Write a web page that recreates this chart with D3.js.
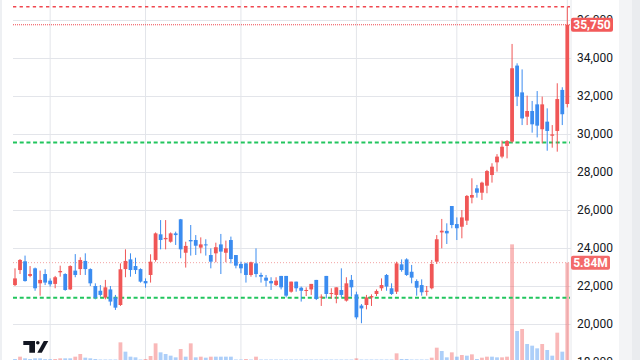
<!DOCTYPE html>
<html><head><meta charset="utf-8">
<script src="https://cdn.jsdelivr.net/npm/d3@7"></script>
<style>
html,body{margin:0;padding:0;background:#fff;}
svg{display:block;font-family:Roboto,"Noto Sans",sans-serif;}
</style></head><body>
<svg id="c" width="640" height="360"></svg>
<script>
// ---- data ----
const open  = [22050,22840,23300,22530,22930,22140,22630,22280,22110,22720,22630,21820,22810,22890,23320,22890,22000,21750,21390,21820,21390,21000,22890,23400,23050,22890,22260,22580,23370,24720,24460,24330,24770,25510,23750,24420,24420,24020,24190,23630,23720,24190,23750,24420,23630,23160,23190,22580,23190,22580,22440,22260,22050,22530,22530,21700,22230,21910,21740,21820,22320,21390,22530,21600,21530,21790,21230,22320,21560,20970,21000,21400,21580,21880,22580,21880,21700,23140,23400,22750,22260,22050,21700,21880,23280,24820,24900,26210,25260,25120,25440,26650,27140,26910,27280,27840,28510,28810,29370,29600,33600,32190,30910,31210,31560,30250,30650,29910,30160,32320,31580];
const high  = [22930,23420,23600,23050,22970,22810,22880,22400,22530,23070,22670,23090,23680,23510,23720,22930,22140,22050,22320,22000,21530,23190,23930,23720,23490,22930,22400,23670,24820,25470,25470,24820,24860,25530,24330,25210,24680,24560,24460,23980,24280,24740,24390,24600,23630,23280,23230,23280,23980,22700,22580,22460,22460,22530,22530,22230,22230,21970,21930,22110,22320,21560,22530,21880,21930,22930,22460,22580,21700,21050,21530,21560,21820,22400,22630,22140,23280,23400,23460,23110,22350,22350,22000,23370,24680,25530,25300,26210,25610,26000,26790,27670,27320,27490,28110,28460,28940,29650,29680,34740,33720,33400,32020,31740,32260,31970,31350,30470,32670,32460,36700];
const low   = [22000,22630,22230,22460,21750,21490,22050,21970,21880,22490,21750,21790,22460,22580,22580,22000,21300,21440,21300,20970,20740,20950,22460,22490,22630,22180,21910,22180,23280,23930,23930,24280,24160,23460,22970,23600,23630,23720,23600,22930,23250,22630,23250,23190,22930,22670,22180,22490,22460,22180,21970,21790,22000,21820,21400,21650,21700,21180,21470,21530,21260,20950,21350,21350,21090,21400,21180,21440,20250,20040,20770,20950,21470,21750,21750,21530,21580,22750,22530,22140,21490,21490,21490,21820,23160,23980,24210,25040,24420,24510,25210,26350,26650,26530,26880,27440,28020,28720,28720,29540,31470,30470,30470,30070,29820,29510,29120,29280,29070,30470,31400];
const close = [22400,23370,22260,22630,21880,22320,22180,22090,22460,22790,21790,23050,22580,23370,22890,22140,21390,21530,21930,21180,20860,22880,23320,22840,22840,22230,22140,23280,24770,24420,24530,24770,24680,23930,24110,24350,24120,24190,24140,23280,24040,23810,23980,23420,23070,22930,22580,23250,22630,22490,22280,22140,22280,21930,21490,22230,21880,21750,21790,22110,21320,21440,21580,21630,21930,21530,22140,21930,20350,20820,21400,21470,21740,22050,21970,21580,23190,22840,22580,22440,21910,21670,21750,23160,24460,24910,24770,25210,25040,25610,26740,26790,26910,27440,28050,28280,28810,29330,29630,33460,31970,30820,31210,30510,30440,31560,30160,29980,31840,31040,35750];
// volume in millions, and the colour direction the volume bar shows (1 = red, 0 = blue)
const volume = [0.06,0.2,0.1,0.06,0.1,0.1,0.05,0.05,0.06,0.1,0.1,0.1,0.2,0.36,0.14,0.1,0.06,0.03,0.03,0.03,0.03,1.06,0.5,0.2,0.16,0.03,0.06,0.24,1.0,0.46,0.36,0.26,0.16,0.66,0.2,1.0,0.16,0.2,0.14,0.2,0.2,0.2,0.2,0.2,0.03,0.03,0.06,0.03,0.2,0.03,0.03,0.03,0.03,0.03,0.03,0.03,0.03,0.03,0.03,0.03,0.03,0.03,0.03,0.03,0.03,0.03,0.03,0.03,0.1,0.03,0.03,0.03,0.03,0.03,0.03,0.03,0.4,0.06,0.06,0.03,0.03,0.03,0.03,0.14,0.74,0.54,0.16,0.46,0.2,0.3,0.26,0.34,0.06,0.14,0.2,0.2,0.16,0.16,0.2,6.94,1.74,1.86,0.96,0.86,0.7,0.96,0.6,0.26,1.64,0.5,5.84];
const volUp = [0,1,0,0,0,0,0,0,1,1,0,0,1,1,0,0,0,0,0,0,0,1,0,0,0,0,1,1,1,0,0,0,0,1,0,1,0,1,0,1,0,0,0,0,0,0,1,0,1,0,0,0,0,0,0,0,0,0,0,0,0,0,0,0,0,0,0,0,1,0,0,0,0,0,0,0,1,0,0,0,0,0,0,1,1,0,0,1,0,1,0,1,0,1,1,0,0,1,1,1,0,1,0,0,0,1,0,0,1,0,1];
const priceTicks = [18000,20000,22000,24000,26000,28000,30000,32000,34000,36000];
const gridBars = [7,26,45,68,88,110];
const highLevel = 36700;
const lastPrice = 35750;
const supportLevels = [29550,21380];
const lastVolume = 5.84;

// ---- colours ----
const UP = "#f05656", DOWN = "#3b8cf0";

const svg = d3.select("#c");
const plotL = 13, plotR = 571;

const x = d3.scalePoint().domain(d3.range(open.length)).range([15, 567.3]);
const y = d3.scaleLinear().domain([18000, 36000]).range([362, 20]);
const vy = d3.scaleLinear().domain([0, 7.2]).range([360, 240]);

// side strips
svg.append("rect").attr("x",0).attr("y",0).attr("width",2).attr("height",360).attr("fill","#eef0f3");
svg.append("rect").attr("x",619).attr("y",0).attr("width",21).attr("height",360).attr("fill","#f3f4f6");
svg.append("rect").attr("x",632).attr("y",0).attr("width",8).attr("height",360).attr("fill","#eaecef");

// horizontal grid
const gy = svg.append("g").attr("transform",`translate(${plotR},0)`)
  .call(d3.axisLeft(y).tickValues(priceTicks).tickSize(plotR-plotL).tickFormat(""));
gy.select(".domain").remove();
gy.selectAll("line").attr("stroke","#e3e5ea").attr("shape-rendering","crispEdges");

// vertical grid
svg.append("g").selectAll("line").data(gridBars).join("line")
  .attr("x1",d=>x(d)).attr("x2",d=>x(d)).attr("y1",0).attr("y2",360)
  .attr("stroke","#e3e5ea").attr("stroke-width",1);
// axis border
svg.append("line").attr("x1",plotR).attr("x2",plotR).attr("y1",0).attr("y2",360)
  .attr("stroke","#e6e8ec").attr("stroke-width",1);

// volume bars
const bw = 3.8;
svg.append("g").selectAll("rect").data(volume).join("rect")
  .attr("x",(d,i)=>x(i)-bw/2).attr("width",bw)
  .attr("y",d=>vy(d)).attr("height",d=>vy(0)-vy(d))
  .attr("fill",(d,i)=>volUp[i]?UP:DOWN).attr("fill-opacity",0.42);

// level lines
function hline(yy, color, w, dash){
  svg.append("line").attr("x1",plotL).attr("x2",plotR-1).attr("y1",yy).attr("y2",yy)
    .attr("stroke",color).attr("stroke-width",w).attr("stroke-dasharray",dash);
}
hline(vy(lastVolume), "#f3a3a3", 1, "1,2");
supportLevels.forEach(v=>hline(y(v), "#22c55e", 2, "4,2.7"));
hline(y(highLevel), "#f0474f", 1.5, "3.3,3.3");
hline(y(lastPrice), "#f0474f", 1, "1,1");

// candles
const cg = svg.append("g");
open.forEach((o,i)=>{
  const c = close[i], up = c >= o, col = up ? UP : DOWN;
  const cx = x(i);
  cg.append("line").attr("x1",cx).attr("x2",cx)
    .attr("y1",y(high[i])).attr("y2",y(low[i])).attr("stroke",col).attr("stroke-width",1);
  const top = y(Math.max(o,c)), bot = y(Math.min(o,c));
  cg.append("rect").attr("x",cx-bw/2).attr("width",bw)
    .attr("y",top).attr("height",Math.max(1,bot-top)).attr("fill",col);
});

// price axis labels
const ax = svg.append("g").attr("transform",`translate(${plotR+6},0)`)
  .call(d3.axisRight(y).tickValues(priceTicks).tickSize(0).tickPadding(0).tickFormat(d3.format(",")));
ax.select(".domain").remove();
ax.selectAll("text").attr("fill","#131722").style("font-size","12px")
  .style("font-family","Roboto,'Noto Sans',sans-serif");

// value badges
function badge(yy, w, txt, color){
  const g = svg.append("g");
  g.append("rect").attr("x",plotR).attr("y",yy-7).attr("width",w).attr("height",14)
    .attr("rx",2).attr("fill",color);
  g.append("text").attr("x",plotR+w/2).attr("y",yy).attr("dy","0.36em")
    .attr("text-anchor","middle").attr("fill","#fff").style("font-size","12px")
    .style("font-weight","700").text(txt);
}
badge(y(lastPrice), 42, d3.format(",")(lastPrice), "#f25a5a");
badge(vy(lastVolume), 39, lastVolume.toFixed(2)+"M", "#f36a6a");

// logo
const lg = svg.append("g").attr("fill","#131722");
lg.append("path").attr("d","M23.3,341 H35 V352.7 H29.3 V345 H23.3 Z");
lg.append("circle").attr("cx",37.8).attr("cy",342.8).attr("r",1.8);
lg.append("path").attr("d","M37.3,352.7 H41.8 L48.3,341 H43.8 Z");
</script>
</body></html>
